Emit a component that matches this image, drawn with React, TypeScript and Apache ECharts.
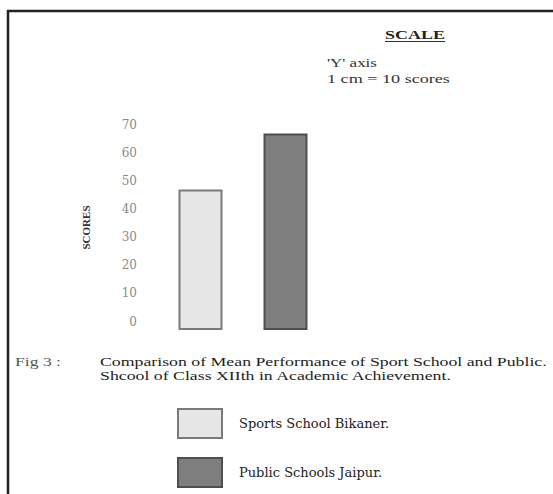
import React, { useEffect, useRef } from "react";
import * as echarts from "echarts";

// Mean scores (class XIIth, academic achievement)
const schools = ["Sports School Bikaner", "Public Schools Jaipur"];
const legendNames = ["Sports School Bikaner.", "Public Schools Jaipur."];
const meanScores = [47, 67];
const tickValues = [0, 10, 20, 30, 40, 50, 60, 70];

const captionLines = [
  "Comparison of Mean Performance of Sport School and Public.",
  "Shcool of Class XIIth in Academic Achievement.",
];
const figLabel = "Fig 3 :";
const scaleTitle = "SCALE";
const scaleLines = ["'Y' axis", "1 cm = 10 scores"];

const SERIF = "Liberation Serif";
const WIDE_SERIF = "DejaVu Serif";

// horizontal stretch so a string spans a given pixel width
function fitScale(text: string, size: number, weight: string, width: number): number {
  const ctx = document.createElement("canvas").getContext("2d");
  if (!ctx) return 1;
  ctx.font = `${weight} ${size}px "${SERIF}"`;
  const w = ctx.measureText(text).width;
  return w > 0 ? width / w : 1;
}

function label(
  text: string,
  x: number,
  y: number,
  size: number,
  width: number,
  fill: string,
  weight = "normal"
) {
  return {
    type: "text",
    x,
    y,
    scaleX: fitScale(text, size, weight, width),
    style: {
      text,
      fontFamily: SERIF,
      fontSize: size,
      fontWeight: weight,
      fill,
      textAlign: "left",
      textVerticalAlign: "middle",
    },
  };
}

export default function App() {
  const ref = useRef<HTMLDivElement>(null);

  useEffect(() => {
    if (!ref.current) return;
    const chart = echarts.init(ref.current, null, { renderer: "svg" });

    const fills = ["#e6e6e6", "#7e7e7e"];
    const borders = ["#7a7a7a", "#4e4e4e"];

    chart.setOption({
      animation: false,
      backgroundColor: "#ffffff",
      grid: { left: 158, right: 225, top: 125, bottom: 164, containLabel: false },
      xAxis: {
        type: "category",
        data: schools,
        axisLine: { show: false },
        axisTick: { show: false },
        axisLabel: { show: false },
      },
      yAxis: {
        type: "value",
        min: -3,
        max: 70,
        startValue: -3,
        name: "SCORES",
        nameLocation: "middle",
        nameRotate: 90,
        nameGap: 67,
        nameTextStyle: {
          fontFamily: SERIF,
          fontWeight: "bold",
          fontSize: 11,
          color: "#333",
        },
        axisLine: { show: false },
        axisTick: { show: false },
        splitLine: { show: false },
        axisLabel: {
          customValues: tickValues,
          margin: 21,
          fontFamily: WIDE_SERIF,
          fontSize: 12,
          color: "#8a8a8a",
        },
      },
      legend: {
        orient: "vertical",
        left: 177,
        top: 408,
        padding: 0,
        itemWidth: 44,
        itemHeight: 29,
        itemGap: 18,
        icon: "rect",
        data: legendNames,
        textStyle: {
          fontFamily: WIDE_SERIF,
          fontSize: 13,
          color: "#222",
          padding: [3, 0, 0, 12],
        },
      },
      series: legendNames.map((name, i) => ({
        name,
        type: "bar",
        barWidth: 44,
        barGap: "-100%",
        data: meanScores.map((v, j) => (j === i ? v : null)),
        itemStyle: { color: fills[i], borderColor: borders[i], borderWidth: 2 },
      })),
      graphic: [
        // page frame
        { type: "line", shape: { x1: 8, y1: 10, x2: 8, y2: 494 }, style: { stroke: "#222", lineWidth: 2.5 } },
        { type: "line", shape: { x1: 7, y1: 11, x2: 553, y2: 11 }, style: { stroke: "#222", lineWidth: 2.5 } },
        // scale note
        label(scaleTitle, 385, 35, 12, 60, "#222", "bold"),
        { type: "line", shape: { x1: 385, y1: 41.5, x2: 445, y2: 41.5 }, style: { stroke: "#333", lineWidth: 1 } },
        label(scaleLines[0], 327, 63, 12, 50, "#333"),
        label(scaleLines[1], 327, 79, 12, 123, "#333"),
        // figure caption
        label(figLabel, 15, 362, 12, 46, "#555"),
        label(captionLines[0], 100, 362, 12.5, 447, "#1e1e1e"),
        label(captionLines[1], 100, 375.5, 12.5, 353, "#1e1e1e"),
      ],
    });

    return () => chart.dispose();
  }, []);

  return (
    <div
      ref={ref}
      style={{ position: "fixed", left: 0, top: 0, width: 553, height: 494 }}
    />
  );
}
